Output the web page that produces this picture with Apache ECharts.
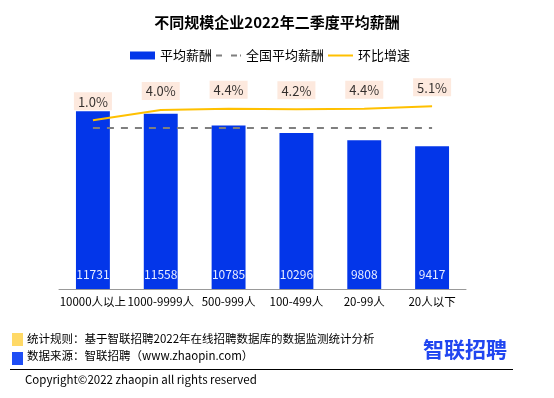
<!DOCTYPE html>
<html>
<head>
    <meta charset="utf-8" />
    <title>ECharts</title>
    <script src="https://cdn.jsdelivr.net/npm/echarts@6.0.0/dist/echarts.min.js"></script>
    <style>
        html, body { margin: 0; padding: 0; background: #fff; }
    </style>
</head>
<body>
    <div id="main" style="width: 554px;height: 398px;"></div>
    <script type="text/javascript">
        // 数据
        var categories = ['10000人以上', '1000-9999人', '500-999人', '100-499人', '20-99人', '20人以下'];
        var salary = [11731, 11558, 10785, 10296, 9808, 9417];
        var nationalAvg = [10630, 10630, 10630, 10630, 10630, 10630];
        var growth = [1.0, 4.0, 4.4, 4.2, 4.4, 5.1];

        var font = '"Microsoft YaHei", "Noto Sans CJK SC", sans-serif';
        var myChart = echarts.init(document.getElementById('main'));

        var option = {
            animation: false,
            textStyle: { fontFamily: font },
            title: {
                text: '不同规模企业2022年二季度平均薪酬',
                left: 'center',
                top: 10,
                textStyle: { fontSize: 15, fontWeight: 'bold', color: '#000', fontFamily: font }
            },
            legend: {
                left: 125,
                top: 44,
                itemWidth: 25,
                itemHeight: 8,
                itemGap: 4,
                textStyle: { fontSize: 13, color: '#000', fontFamily: font },
                data: [
                    { name: '平均薪酬', icon: 'rect' },
                    { name: '全国平均薪酬', icon: 'path://M0,0h6v2h-6z M15,0h6v2h-6z M24,0h1v2h-1z' },
                    { name: '环比增速', icon: 'path://M0,0h25v2h-25z' }
                ]
            },
            grid: {
                left: 59,
                right: 88,
                top: 92,
                bottom: 109
            },
            xAxis: {
                type: 'category',
                data: categories,
                axisLine: { lineStyle: { color: '#999' } },
                axisTick: { length: 4, lineStyle: { color: '#999' } },
                axisLabel: { color: '#000', fontSize: 11.5, margin: 7, interval: 0, fontFamily: font }
            },
            yAxis: [
                { type: 'value', min: 0, max: 13000, show: false, splitLine: { show: false } },
                { type: 'value', min: -48.6, max: 9.3, show: false, splitLine: { show: false } }
            ],
            series: [
                {
                    name: '平均薪酬',
                    type: 'bar',
                    data: salary,
                    barWidth: '50%',
                    itemStyle: { color: '#0336E9' },
                    label: {
                        show: true,
                        position: 'insideBottom',
                        distance: 9,
                        color: '#e8ecff',
                        fontSize: 12,
                        fontFamily: font
                    }
                },
                {
                    name: '全国平均薪酬',
                    type: 'line',
                    data: nationalAvg,
                    symbol: 'none',
                    lineStyle: { color: '#7f7f7f', width: 2, type: [7, 7] },
                    itemStyle: { color: '#7f7f7f' }
                },
                {
                    name: '环比增速',
                    type: 'line',
                    yAxisIndex: 1,
                    data: growth,
                    symbol: 'none',
                    lineStyle: { color: '#FFC000', width: 2 },
                    itemStyle: { color: '#FFC000' }
                },
                {
                    // 环比增速数据标签
                    name: '环比增速标签',
                    type: 'scatter',
                    yAxisIndex: 1,
                    data: growth,
                    symbolSize: 2,
                    itemStyle: { color: 'rgba(0,0,0,0)' },
                    silent: true,
                    label: {
                        show: true,
                        position: 'top',
                        distance: 9,
                        formatter: function (p) { return p.value.toFixed(1) + '%'; },
                        backgroundColor: '#FCE4D6',
                        padding: [3, 4, 2, 4],
                        color: '#000',
                        fontSize: 13,
                        fontFamily: font
                    }
                }
            ],
            graphic: [
                { type: 'rect', shape: { x: 12, y: 333, width: 11, height: 13 }, style: { fill: '#FFD966' } },
                { type: 'text', x: 27, y: 339, style: { text: '统计规则：基于智联招聘2022年在线招聘数据库的数据监测统计分析', fill: '#000', font: '11.5px ' + font, textVerticalAlign: 'middle' } },
                { type: 'rect', shape: { x: 12, y: 352, width: 11, height: 13 }, style: { fill: '#1F4EF5' } },
                { type: 'text', x: 27, y: 356, style: { text: '数据来源：智联招聘（www.zhaopin.com）', fill: '#000', font: '11.5px ' + font, textVerticalAlign: 'middle' } },
                { type: 'line', shape: { x1: 10, y1: 369.5, x2: 513, y2: 369.5 }, style: { stroke: '#000', lineWidth: 1 } },
                { type: 'text', x: 25, y: 380, style: { text: 'Copyright©2022 zhaopin all rights reserved', fill: '#000', font: '11.5px ' + font, textVerticalAlign: 'middle' } },
                { type: 'text', x: 423, y: 349, style: { text: '智联招聘', fill: '#2146F0', font: 'bold 21px ' + font, textVerticalAlign: 'middle' } }
            ]
        };

        myChart.setOption(option);
    </script>
</body>
</html>
